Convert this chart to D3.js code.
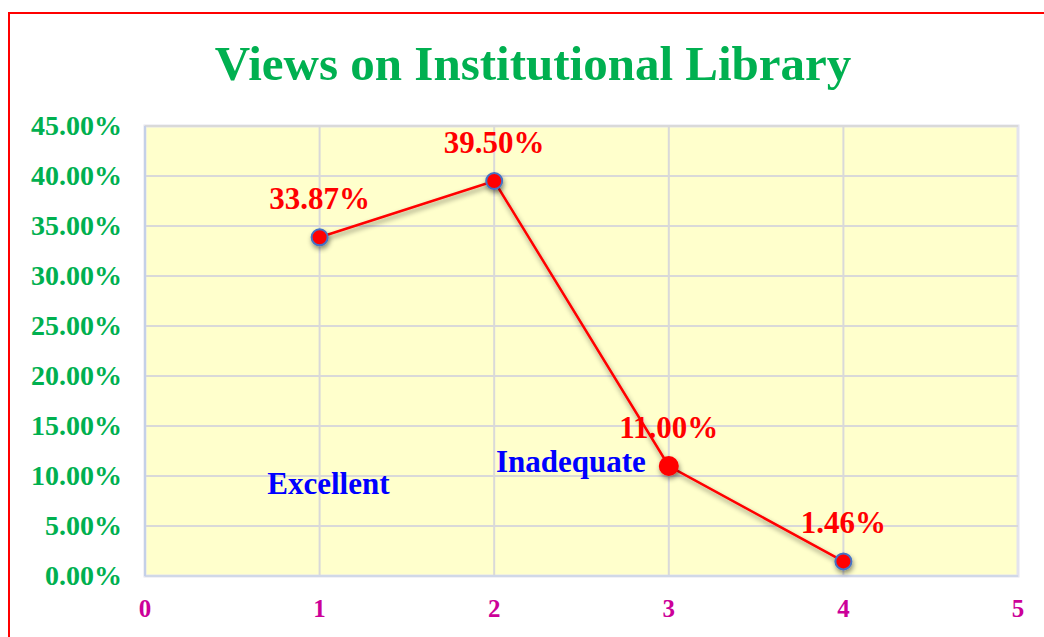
<!DOCTYPE html>
<html>
<head>
<meta charset="utf-8">
<script src="https://cdn.jsdelivr.net/npm/d3@7"></script>
<style>
  body { margin: 0; background: #fff; }
  svg text { font-family: "Liberation Serif", "DejaVu Serif", serif; font-weight: bold; }
</style>
</head>
<body>
<svg id="chart" width="1044" height="637"></svg>
<script>
// chart data
var xValues = [1, 2, 3, 4];
var yValues = [33.87, 39.50, 11.00, 1.46];
var pointLabels = ["33.87%", "39.50%", "11.00%", "1.46%"];
var xTicks = [0, 1, 2, 3, 4, 5];
var yTicks = [0, 5, 10, 15, 20, 25, 30, 35, 40, 45];
var notes = [{ text: "Excellent", x: 0.70, y: 8.2 }, { text: "Inadequate", x: 2.01, y: 10.4 }];

var svg = d3.select("#chart");
var margin = { left: 145, top: 126, right: 1018, bottom: 576 };

var x = d3.scaleLinear().domain([0, 5]).range([margin.left, margin.right]);
var y = d3.scaleLinear().domain([0, 45]).range([margin.bottom, margin.top]);

var defs = svg.append("defs");
var f = defs.append("filter").attr("id", "shadow").attr("x", "-50%").attr("y", "-50%").attr("width", "200%").attr("height", "200%");
f.append("feDropShadow").attr("dx", 1).attr("dy", 3).attr("stdDeviation", 2.5).attr("flood-color", "#000").attr("flood-opacity", 0.45);

// outer red frame
svg.append("rect")
    .attr("x", 9).attr("y", 13).attr("width", 1100).attr("height", 700)
    .attr("fill", "none").attr("stroke", "#ff0000").attr("stroke-width", 2);

svg.append("text")
    .attr("x", 533).attr("y", 80)
    .attr("text-anchor", "middle")
    .attr("fill", "#00b050")
    .style("font-size", "49px")
    .text("Views on Institutional Library");

// plot background
svg.append("rect")
    .attr("x", margin.left).attr("y", margin.top)
    .attr("width", margin.right - margin.left).attr("height", margin.bottom - margin.top)
    .attr("fill", "#ffffcc").attr("stroke", "#e3e3ee").attr("stroke-width", 3);

// grid
svg.append("g").selectAll("line").data(yTicks.slice(1)).enter().append("line")
    .attr("x1", margin.left).attr("x2", margin.right)
    .attr("y1", function(d) { return y(d); }).attr("y2", function(d) { return y(d); })
    .attr("stroke", "#d9d9d9").attr("stroke-width", 2);

svg.append("g").selectAll("line").data(xTicks.slice(1, 5)).enter().append("line")
    .attr("y1", margin.top).attr("y2", margin.bottom)
    .attr("x1", function(d) { return x(d); }).attr("x2", function(d) { return x(d); })
    .attr("stroke", "#d9d9d9").attr("stroke-width", 2);

// axes lines
svg.append("line").attr("x1", margin.left).attr("x2", margin.right)
    .attr("y1", margin.bottom).attr("y2", margin.bottom)
    .attr("stroke", "#d0d8e8").attr("stroke-width", 2);
svg.append("line").attr("x1", margin.left).attr("x2", margin.left)
    .attr("y1", margin.top).attr("y2", margin.bottom)
    .attr("stroke", "#c4d0e8").attr("stroke-width", 2);

// tick labels
svg.append("g").selectAll("text").data(yTicks).enter().append("text")
    .attr("x", 122).attr("y", function(d) { return y(d) + 9; })
    .attr("text-anchor", "end")
    .attr("fill", "#00b050")
    .style("font-size", "28px")
    .text(function(d) { return d.toFixed(2) + "%"; });

svg.append("g").selectAll("text").data(xTicks).enter().append("text")
    .attr("x", function(d) { return x(d); }).attr("y", 617)
    .attr("text-anchor", "middle")
    .attr("fill", "#cc0099")
    .style("font-size", "25px")
    .text(function(d) { return d; });

var pts = xValues.map(function(v, i) { return { x: v, y: yValues[i], label: pointLabels[i] }; });

var line = d3.line().x(function(d) { return x(d.x); }).y(function(d) { return y(d.y); });
svg.append("path").datum(pts)
    .attr("d", line)
    .attr("fill", "none")
    .attr("stroke", "#ff0000")
    .attr("stroke-width", 2.5)
    .attr("filter", "url(#shadow)");

svg.append("g").selectAll("circle").data(pts).enter().append("circle")
    .attr("cx", function(d) { return x(d.x); })
    .attr("cy", function(d) { return y(d.y); })
    .attr("r", function(d, i) { return i == 2 ? 9 : 8; })
    .attr("fill", "#ff0000")
    .attr("stroke", function(d, i) { return i == 2 ? "#ff0000" : "#4472c4"; })
    .attr("stroke-width", 2)
    .attr("filter", "url(#shadow)");

svg.append("g").selectAll("text").data(pts).enter().append("text")
    .attr("x", function(d) { return x(d.x); })
    .attr("y", function(d) { return y(d.y) - 28; })
    .attr("text-anchor", "middle")
    .attr("fill", "#ff0000")
    .style("font-size", "31px")
    .text(function(d) { return d.label; });

svg.append("g").selectAll("text").data(notes).enter().append("text")
    .attr("x", function(d) { return x(d.x); })
    .attr("y", function(d) { return y(d.y); })
    .attr("fill", "#0000ff")
    .style("font-size", "31px")
    .text(function(d) { return d.text; });
</script>
</body>
</html>
